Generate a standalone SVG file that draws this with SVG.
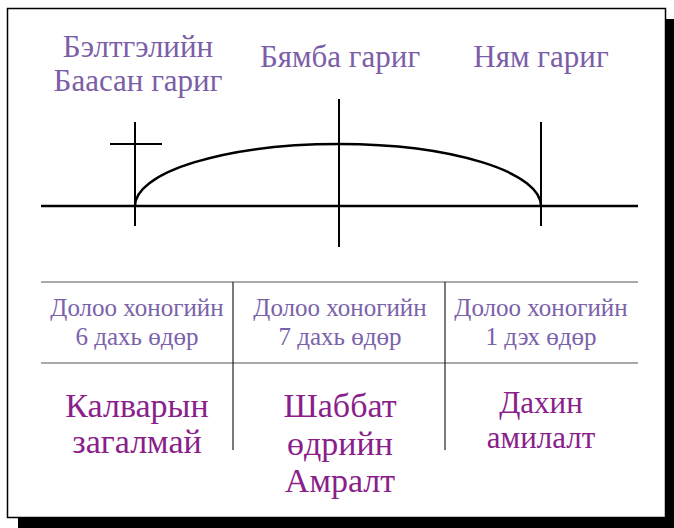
<svg xmlns="http://www.w3.org/2000/svg" width="674" height="528" viewBox="0 0 674 528">
<style>
.ln{stroke:#000;fill:none}
.t1{font-family:"Liberation Serif","DejaVu Serif",serif;font-size:31px;fill:#7b5ea7;text-anchor:middle}
.t2{font-family:"Liberation Serif","DejaVu Serif",serif;font-size:25px;fill:#7a62aa;text-anchor:middle}
.t3{font-family:"Liberation Serif","DejaVu Serif",serif;font-size:34px;fill:#8a1e8a;text-anchor:middle}
.t4{font-family:"Liberation Serif","DejaVu Serif",serif;font-size:31px;fill:#8a1e8a;text-anchor:middle}
</style>
<rect x="18" y="19" width="656" height="509" fill="#000"/>
<rect x="7.5" y="8.5" width="658" height="509" fill="#fff" stroke="#000" stroke-width="1.5"/>
<g id="connectors">
<line class="ln" x1="41" y1="206" x2="638" y2="206" stroke-width="2.5"/>
<line class="ln" x1="135" y1="122" x2="135" y2="226" stroke-width="2"/>
<line class="ln" x1="110" y1="144" x2="162" y2="144" stroke-width="2"/>
<line class="ln" x1="339" y1="99" x2="339" y2="247" stroke-width="2"/>
<line class="ln" x1="541" y1="122" x2="541" y2="226" stroke-width="2"/>
<path class="ln" d="M135,206 A204,62 0 0 1 339,144 A202,62 0 0 1 541,206" stroke-width="2.5"/>
<line x1="41" y1="282" x2="638" y2="282" stroke="#555" stroke-width="1.2"/>
<line x1="41" y1="363" x2="638" y2="363" stroke="#555" stroke-width="1.2"/>
<line x1="233" y1="282" x2="233" y2="450" stroke="#222" stroke-width="1.2"/>
<line x1="445" y1="282" x2="445" y2="450" stroke="#222" stroke-width="1.2"/>
</g>
<g id="friday">
<text class="t1" x="138" y="57">Бэлтгэлийн</text>
<text class="t1" x="138" y="91">Баасан гариг</text>
</g>
<g id="saturday"><text class="t1" x="340" y="67">Бямба гариг</text></g>
<g id="sunday"><text class="t1" x="541" y="67">Ням гариг</text></g>
<g id="day6">
<text class="t2" x="137" y="316">Долоо хоногийн</text>
<text class="t2" x="137" y="345">6 дахь өдөр</text>
</g>
<g id="day7">
<text class="t2" x="340" y="316">Долоо хоногийн</text>
<text class="t2" x="340" y="345">7 дахь өдөр</text>
</g>
<g id="day1">
<text class="t2" x="541" y="316">Долоо хоногийн</text>
<text class="t2" x="541" y="345">1 дэх өдөр</text>
</g>
<g id="calvary">
<text class="t3" x="137" y="417">Калварын</text>
<text class="t3" x="137" y="453">загалмай</text>
</g>
<g id="sabbath">
<text class="t3" x="340" y="417">Шаббат</text>
<text class="t3" x="340" y="455">өдрийн</text>
<text class="t3" x="340" y="492">Амралт</text>
</g>
<g id="resurrection">
<text class="t4" x="541" y="413">Дахин</text>
<text class="t4" x="541" y="448">амилалт</text>
</g>
</svg>
